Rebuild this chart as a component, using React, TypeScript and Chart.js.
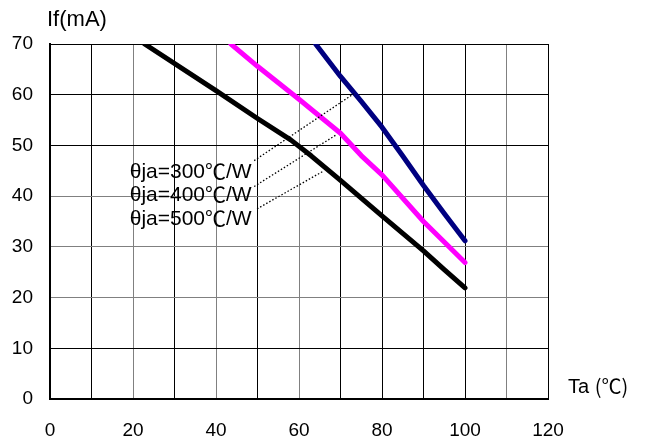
import React, { useEffect, useRef } from "react";
import { Chart, registerables } from "chart.js";

Chart.register(...registerables);

// Derating curves (Ta in °C, If in mA)
const ta300 = [64, 70, 75, 80, 85, 90, 95, 100];
const if300 = [70, 63.6, 58.7, 53.6, 47.9, 42.1, 36.6, 31.2];

const ta400 = [43.6, 50, 60, 70, 75, 80, 90, 100];
const if400 = [70, 65.6, 59.1, 52.4, 48.0, 44.2, 35.0, 26.9];

const ta500 = [22.8, 40, 50, 58, 63, 70, 80, 90, 95, 100];
const if500 = [70, 60.8, 55.3, 51.1, 47.9, 43.1, 36.1, 29.2, 25.5, 21.9];

// Leader lines from labels to curves (data coordinates)
const leaderStartTa = [49.2, 49.2, 49.9];
const leaderStartIf = [47.0, 41.9, 37.5];
const leaderEndTa = [73.2, 68.8, 66.0];
const leaderEndIf = [60.2, 52.0, 45.0];

const labelPrefix = ["θja=300", "θja=400", "θja=500"];
const labelUnitSymbol = "℃";
const labelUnitTail = "/W";
const labelTa = [48.6, 48.6, 48.6];
const labelIf = [45.05, 40.5, 35.8];

const xMin = 0, xMax = 120, xStep = 10, xLabelStep = 20;
const yMin = 0, yMax = 70, yStep = 10;
const yTitle = "If(mA)";
const xTitleMain = "Ta ";
const xTitleUnit = "(℃)";

const grayX = [20, 40, 60, 110];
const grayY = [20, 30, 40];

const FONT = "'Liberation Sans', Arial, sans-serif";
const CJK = "'Noto Sans CJK SC', 'Noto Sans CJK JP', sans-serif";

const zip = (xs: number[], ys: number[]) => xs.map((x, i) => ({ x, y: ys[i] }));

export default function App() {
  const ref = useRef<HTMLCanvasElement | null>(null);

  useEffect(() => {
    if (!ref.current) return;
    const textPlugin = {
      id: "texts",
      afterDraw(chart: any) {
        const ctx = chart.ctx;
        const xs = chart.scales.x;
        const ys = chart.scales.y;
        const area = chart.chartArea;
        ctx.save();
        ctx.fillStyle = "#000";
        ctx.textBaseline = "alphabetic";
        ctx.textAlign = "left";
        const mainFont = `21px ${FONT}`;
        const cjkFont = `21px ${CJK}`;
        labelPrefix.forEach((p, i) => {
          ctx.font = mainFont;
          const w1 = ctx.measureText(p).width;
          const w3 = ctx.measureText(labelUnitTail).width;
          ctx.font = cjkFont;
          const w2 = ctx.measureText(labelUnitSymbol).width;
          const right = xs.getPixelForValue(labelTa[i]);
          const base = ys.getPixelForValue(labelIf[i]) + 7.5;
          let x = right - (w1 + w2 + w3);
          ctx.font = mainFont;
          ctx.fillText(p, x, base);
          x += w1;
          ctx.font = cjkFont;
          ctx.fillText(labelUnitSymbol, x, base + 1);
          x += w2;
          ctx.font = mainFont;
          ctx.fillText(labelUnitTail, x, base);
        });
        ctx.font = `22px ${FONT}`;
        ctx.fillText(yTitle, area.left - 3, 26);
        const base2 = ys.getPixelForValue(2.7) + 7.5;
        const tx = area.right + 20;
        ctx.font = `20px ${FONT}`;
        ctx.fillText(xTitleMain, tx, base2);
        const wm = ctx.measureText(xTitleMain).width;
        ctx.font = `20px ${CJK}`;
        ctx.fillText(xTitleUnit, tx + wm, base2 + 1);
        ctx.restore();
      },
    };

    const curve = (xs: number[], ys: number[], color: string, w: number) => ({
      data: zip(xs, ys),
      borderColor: color,
      backgroundColor: color,
      borderWidth: w,
      showLine: true,
      pointRadius: 0,
      tension: 0,
      borderCapStyle: "round" as const,
      borderJoinStyle: "round" as const,
    });

    const leaders = leaderStartTa.map((_, i) => ({
      data: [
        { x: leaderStartTa[i], y: leaderStartIf[i] },
        { x: leaderEndTa[i], y: leaderEndIf[i] },
      ],
      borderColor: "#000",
      borderWidth: 1.3,
      borderDash: [1.5, 2],
      showLine: true,
      pointRadius: 0,
    }));

    const chart = new Chart(ref.current, {
      type: "scatter",
      data: {
        datasets: [
          ...leaders,
          curve(ta500, if500, "#000000", 5),
          curve(ta400, if400, "#FF00FF", 5),
          curve(ta300, if300, "#000080", 5),
        ],
      },
      options: {
        responsive: false,
        animation: false,
        layout: { padding: { top: 44, right: 104, left: 0, bottom: 0 } },
        plugins: { legend: { display: false }, tooltip: { enabled: false } },
        scales: {
          x: {
            type: "linear",
            min: xMin,
            max: xMax,
            afterFit: (s: any) => { s.height = 44; },
            ticks: {
              stepSize: xStep,
              autoSkip: false,
              maxRotation: 0,
              padding: 20,
              color: "#000",
              font: { size: 19, family: FONT },
              callback: (v: any) => (Number(v) % xLabelStep === 0 ? String(v) : ""),
            },
            grid: {
              drawTicks: false,
              color: (c: any) => (grayX.includes(c.tick?.value) ? "#808080" : "#000"),
              lineWidth: 1,
            },
            border: { color: "#000", width: 2 },
          },
          y: {
            type: "linear",
            min: yMin,
            max: yMax,
            afterFit: (s: any) => { s.width = 50; },
            ticks: {
              stepSize: yStep,
              padding: 17,
              color: "#000",
              font: { size: 19, family: FONT },
            },
            grid: {
              drawTicks: false,
              color: (c: any) => (grayY.includes(c.tick?.value) ? "#808080" : "#000"),
              lineWidth: 1,
            },
            border: { color: "#000", width: 2 },
          },
        },
      },
      plugins: [textPlugin],
    });
    return () => chart.destroy();
  }, []);

  return (
    <div style={{ position: "fixed", left: 0, top: 0, width: 652, height: 443, background: "#fff" }}>
      <canvas ref={ref} width={652} height={443} style={{ display: "block" }} />
    </div>
  );
}
